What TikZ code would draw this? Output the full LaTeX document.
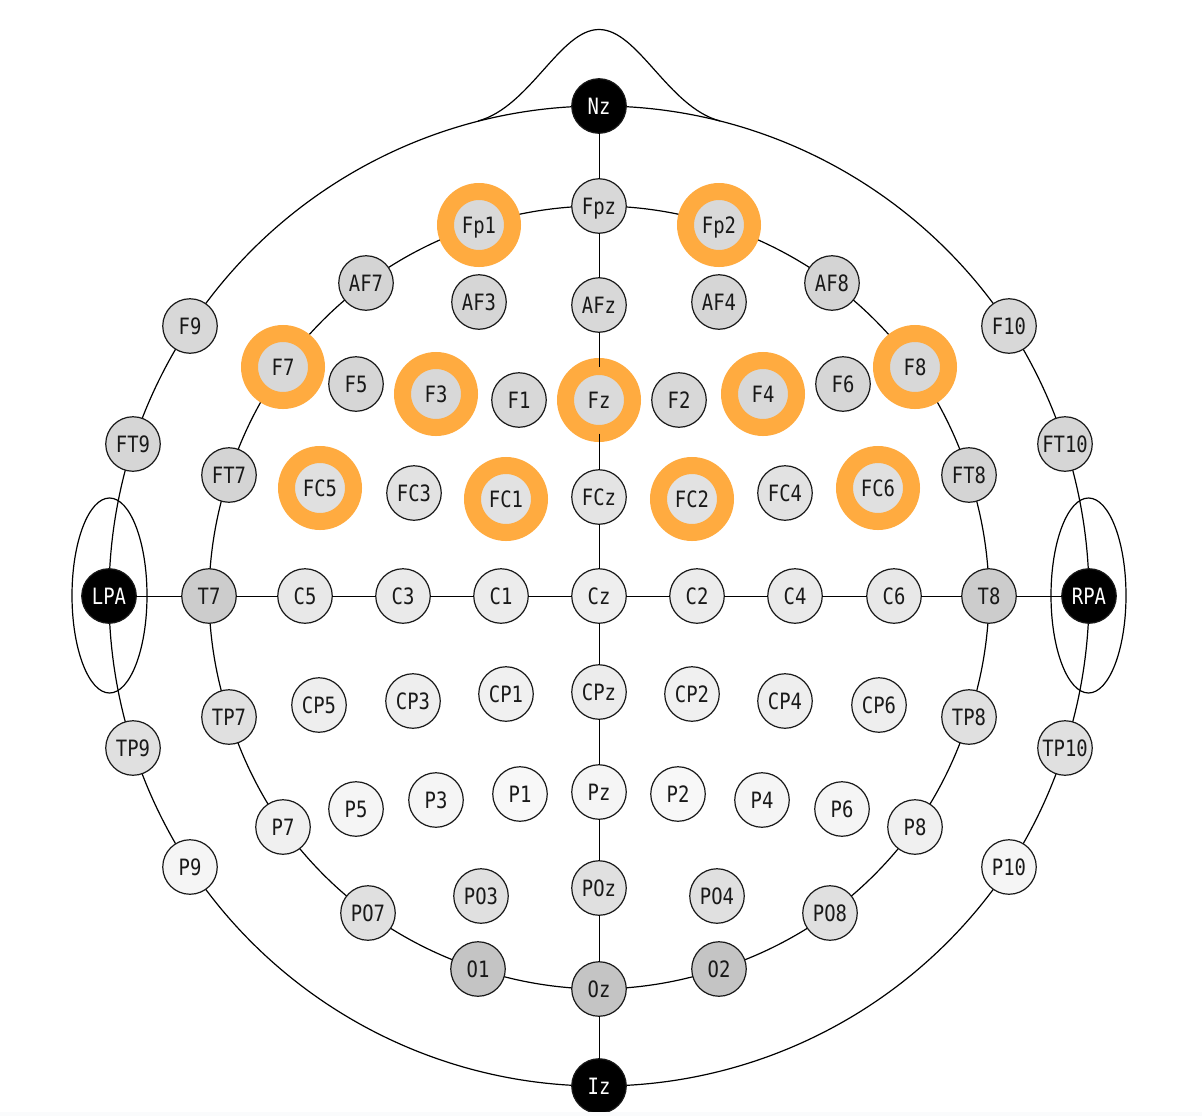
\documentclass[tikz,border=0pt]{standalone}
\usepackage{fontspec}
\usetikzlibrary{calc,backgrounds}
\newfontfamily\elecfont[FakeStretch=0.84]{DejaVu Sans Mono}
\definecolor{ringcol}{HTML}{FFAB40}
\definecolor{bandcol}{HTML}{FAFBFC}
\tikzset{
  elec/.style={circle,draw=black!90,line width=1.2pt,minimum size=54.5pt,inner sep=0pt,outer sep=0pt,
    text height=16.5pt,text depth=0pt,
    font=\elecfont\fontsize{22.5}{24}\selectfont,text=black!90},
  g/.style={elec,fill={rgb,255:red,#1;green,#1;blue,#1}},
  fid/.style={elec,fill=black,text=white},
  ring/.style={circle,draw=ringcol,line width=17pt,minimum size=67pt,inner sep=0pt,outer sep=0pt,
    text height=16.5pt,text depth=0pt,
    font=\elecfont\fontsize{22.5}{24}\selectfont,text=black!90,fill={rgb,255:red,#1;green,#1;blue,#1}},
  conn/.style={draw=black,line width=1.2pt},
  midline/.style={draw=black,line width=0.9pt},
  outline/.style={draw=black,line width=1.2pt},
}
\newcommand{\arcchain}[2]{%
  \foreach \a/\b in {#2}{
    \draw[conn] let \p1=($(\a.center)-(\b.center)$),
      \n1={asin(veclen(\x1,\y1)/(2*#1))},
      \n2={(4/3*tan(\n1/2))/(2*sin(\n1))/0.3915} in
      (\a.center) to[bend left=\n1,looseness=\n2] (\b.center);
  }}
\begin{document}
\begin{tikzpicture}[x=1pt,y=-1pt]
\useasboundingbox (0,0) rectangle (1202,1116);
% fiducials
\node[fid] (Nz) at (599,106) {Nz};
\node[fid] (Iz) at (599,1086) {Iz};
\node[fid] (LPA) at (109,596) {LPA};
\node[fid] (RPA) at (1089,596) {RPA};
% frontal
\node[g=216] (Fpz) at (599,206) {Fpz};
\node[ring=217] (Fp1) at (479,225) {Fp1};
\node[ring=217] (Fp2) at (719,225) {Fp2};
\node[g=212] (AF7) at (366,283) {AF7};
\node[g=214] (AF3) at (479,302) {AF3};
\node[g=216] (AFz) at (599,305) {AFz};
\node[g=214] (AF4) at (719,302) {AF4};
\node[g=212] (AF8) at (832,283) {AF8};
\node[g=216] (F9) at (190,326) {F9};
\node[g=216] (F10) at (1009,326) {F10};
\node[ring=216] (F7) at (283,367) {F7};
\node[ring=216] (F8) at (915,367) {F8};
\node[g=214] (F5) at (356,384) {F5};
\node[g=214] (F6) at (843,384) {F6};
\node[ring=216] (F3) at (436,394) {F3};
\node[ring=216] (F4) at (763,394) {F4};
\node[g=216] (F1) at (519,400) {F1};
\node[ring=218] (Fz) at (599,400) {Fz};
\node[g=216] (F2) at (679,400) {F2};
\node[g=214] (FT9) at (133,444) {FT9};
\node[g=214] (FT10) at (1065,444) {FT10};
\node[g=212] (FT7) at (229,475) {FT7};
\node[g=212] (FT8) at (969,475) {FT8};
\node[ring=224] (FC5) at (320,488) {FC5};
\node[ring=224] (FC6) at (878,488) {FC6};
\node[g=226] (FC3) at (414,493) {FC3};
\node[g=226] (FC4) at (785,493) {FC4};
\node[ring=226] (FC1) at (506,499) {FC1};
\node[ring=226] (FC2) at (692,499) {FC2};
\node[g=228] (FCz) at (599,497) {FCz};
% central
\node[g=204] (T7) at (209,596) {T7};
\node[g=232] (C5) at (305,596) {C5};
\node[g=234] (C3) at (403,596) {C3};
\node[g=236] (C1) at (501,596) {C1};
\node[g=238] (Cz) at (599,596) {Cz};
\node[g=236] (C2) at (697,596) {C2};
\node[g=234] (C4) at (795,596) {C4};
\node[g=232] (C6) at (894,596) {C6};
\node[g=204] (T8) at (989,596) {T8};
% centro-parietal
\node[g=238] (CP5) at (319,705) {CP5};
\node[g=238] (CP3) at (413,701) {CP3};
\node[g=240] (CP1) at (506,694) {CP1};
\node[g=236] (CPz) at (599,692) {CPz};
\node[g=240] (CP2) at (692,694) {CP2};
\node[g=238] (CP4) at (785,701) {CP4};
\node[g=238] (CP6) at (879,705) {CP6};
\node[g=224] (TP7) at (229,717) {TP7};
\node[g=224] (TP8) at (969,717) {TP8};
\node[g=224] (TP9) at (133,748) {TP9};
\node[g=224] (TP10) at (1065,748) {TP10};
% parietal
\node[g=240] (P7) at (283,827) {P7};
\node[g=240] (P8) at (915,827) {P8};
\node[g=245] (P5) at (356,809) {P5};
\node[g=245] (P3) at (436,800) {P3};
\node[g=248] (P1) at (520,794) {P1};
\node[g=245] (Pz) at (599,792) {Pz};
\node[g=248] (P2) at (678,794) {P2};
\node[g=245] (P4) at (762,800) {P4};
\node[g=245] (P6) at (842,809) {P6};
\node[g=245] (P9) at (190,867) {P9};
\node[g=245] (P10) at (1009,867) {P10};
% occipital
\node[g=224] (PO3) at (481,896) {PO3};
\node[g=224] (POz) at (599,888) {POz};
\node[g=224] (PO4) at (717,896) {PO4};
\node[g=224] (PO7) at (368,913) {PO7};
\node[g=224] (PO8) at (830,913) {PO8};
\node[g=196] (O1) at (478,969) {O1};
\node[g=196] (O2) at (719,969) {O2};
\node[g=196] (Oz) at (599,989) {Oz};
\begin{pgfonlayer}{background}
% outer head circle
\arcchain{490}{Nz/F10,F10/FT10,FT10/RPA,RPA/TP10,TP10/P10,P10/Iz,Iz/P9,P9/TP9,TP9/LPA,LPA/FT9,FT9/F9,F9/Nz}
% inner circle
\arcchain{390}{Fpz/Fp2,Fp2/AF8,AF8/F8,F8/FT8,FT8/T8,T8/TP8,TP8/P8,P8/PO8,PO8/O2,O2/Oz,Oz/O1,O1/PO7,PO7/P7,P7/TP7,TP7/T7,T7/FT7,FT7/F7,F7/AF7,AF7/Fp1,Fp1/Fpz}
\end{pgfonlayer}
% straight midlines
\foreach \a/\b in {Nz/Fpz,Fpz/AFz,AFz/Fz,Fz/FCz,FCz/Cz,Cz/CPz,CPz/Pz,Pz/POz,POz/Oz,Oz/Iz,
  LPA/T7,T7/C5,C5/C3,C3/C1,C1/Cz,Cz/C2,C2/C4,C4/C6,C6/T8,T8/RPA}
  \draw[midline] (\a) -- (\b);
% ears
\draw[outline] (LPA.center) ++(0.5,-0.5) ellipse [x radius=37.5,y radius=97.5];
\draw[outline] (RPA.center) ++(-0.5,-0.5) ellipse [x radius=37.5,y radius=97.5];
% nose
\coordinate (noseL) at (478,121);
\coordinate (noseT) at (599,29.5);
\coordinate (noseR) at (720,121);
\draw[outline] (noseL) .. controls (530,107) and (560,29.5) .. (noseT)
  .. controls (638,29.5) and (668,107) .. (noseR);
% page-edge band
\fill[bandcol] (0,1112) rectangle (1202,1116);
\end{tikzpicture}
\end{document}
